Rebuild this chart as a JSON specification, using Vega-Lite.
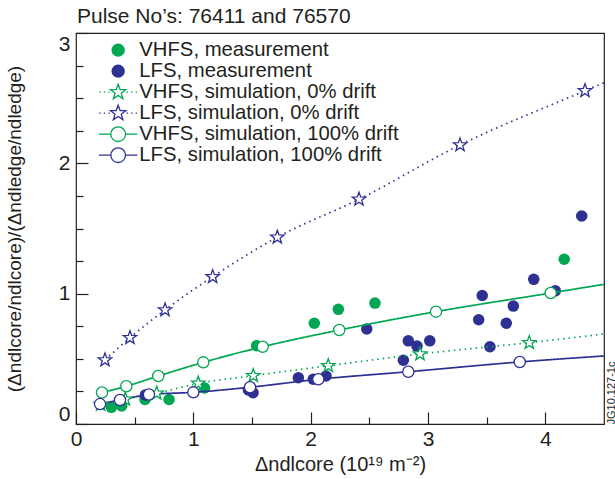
{
  "$schema": "https://vega.github.io/schema/vega-lite/v6.json",
  "width": 528,
  "height": 391,
  "autosize": {"type": "none"},
  "padding": {"left": 76, "top": 33, "right": 11, "bottom": 55},
  "config": {
    "font": "Liberation Sans",
    "view": {"stroke": "#231F20", "strokeWidth": 1.2},
    "axis": {"grid": false, "domain": false, "tickColor": "#231F20", "tickWidth": 1.2, "labelColor": "#231F20", "titleColor": "#231F20", "labelFont": "Liberation Sans", "titleFont": "Liberation Sans", "titleFontWeight": "normal"}
  },
  "title": {"text": "Pulse No’s: 76411 and 76570", "anchor": "start", "frame": "group", "fontSize": 21, "fontWeight": "normal", "font": "Liberation Sans", "color": "#231F20", "offset": 5, "dx": 1},
  "data": {"values": [
    {"s": "VHFS, measurement", "x": 0.301, "y": 0.128},
    {"s": "VHFS, measurement", "x": 0.389, "y": 0.138},
    {"s": "VHFS, measurement", "x": 0.588, "y": 0.188},
    {"s": "VHFS, measurement", "x": 0.793, "y": 0.188},
    {"s": "VHFS, measurement", "x": 1.095, "y": 0.276},
    {"s": "VHFS, measurement", "x": 1.540, "y": 0.601},
    {"s": "VHFS, measurement", "x": 2.031, "y": 0.773},
    {"s": "VHFS, measurement", "x": 2.236, "y": 0.880},
    {"s": "VHFS, measurement", "x": 2.548, "y": 0.928},
    {"s": "VHFS, measurement", "x": 4.161, "y": 1.264},
    {"s": "LFS, measurement", "x": 0.592, "y": 0.223},
    {"s": "LFS, measurement", "x": 1.469, "y": 0.261},
    {"s": "LFS, measurement", "x": 1.509, "y": 0.240},
    {"s": "LFS, measurement", "x": 1.895, "y": 0.355},
    {"s": "LFS, measurement", "x": 2.022, "y": 0.343},
    {"s": "LFS, measurement", "x": 2.131, "y": 0.368},
    {"s": "LFS, measurement", "x": 2.478, "y": 0.729},
    {"s": "LFS, measurement", "x": 2.790, "y": 0.489},
    {"s": "LFS, measurement", "x": 2.832, "y": 0.638},
    {"s": "LFS, measurement", "x": 2.906, "y": 0.598},
    {"s": "LFS, measurement", "x": 3.015, "y": 0.638},
    {"s": "LFS, measurement", "x": 3.432, "y": 0.800},
    {"s": "LFS, measurement", "x": 3.462, "y": 0.986},
    {"s": "LFS, measurement", "x": 3.528, "y": 0.593},
    {"s": "LFS, measurement", "x": 3.667, "y": 0.773},
    {"s": "LFS, measurement", "x": 3.727, "y": 0.905},
    {"s": "LFS, measurement", "x": 3.901, "y": 1.110},
    {"s": "LFS, measurement", "x": 4.085, "y": 1.022},
    {"s": "LFS, measurement", "x": 4.310, "y": 1.596},
    {"s": "VHFS, simulation, 0% drift", "x": 0.21, "y": 0.15},
    {"s": "VHFS, simulation, 0% drift", "x": 0.42, "y": 0.19},
    {"s": "VHFS, simulation, 0% drift", "x": 0.688, "y": 0.236},
    {"s": "VHFS, simulation, 0% drift", "x": 1.042, "y": 0.312},
    {"s": "VHFS, simulation, 0% drift", "x": 1.511, "y": 0.371},
    {"s": "VHFS, simulation, 0% drift", "x": 2.150, "y": 0.447},
    {"s": "VHFS, simulation, 0% drift", "x": 2.932, "y": 0.537},
    {"s": "VHFS, simulation, 0% drift", "x": 3.863, "y": 0.624},
    {"s": "VHFS, simulation, 0% drift", "x": 4.5, "y": 0.691},
    {"s": "LFS, simulation, 0% drift", "x": 0.247, "y": 0.491},
    {"s": "LFS, simulation, 0% drift", "x": 0.460, "y": 0.662},
    {"s": "LFS, simulation, 0% drift", "x": 0.759, "y": 0.875},
    {"s": "LFS, simulation, 0% drift", "x": 1.165, "y": 1.130},
    {"s": "LFS, simulation, 0% drift", "x": 1.716, "y": 1.433},
    {"s": "LFS, simulation, 0% drift", "x": 2.412, "y": 1.724},
    {"s": "LFS, simulation, 0% drift", "x": 3.273, "y": 2.141},
    {"s": "LFS, simulation, 0% drift", "x": 4.338, "y": 2.557},
    {"s": "LFS, simulation, 0% drift", "x": 4.5, "y": 2.619},
    {"s": "VHFS, simulation, 100% drift", "x": 0.222, "y": 0.242},
    {"s": "VHFS, simulation, 100% drift", "x": 0.429, "y": 0.290},
    {"s": "VHFS, simulation, 100% drift", "x": 0.701, "y": 0.368},
    {"s": "VHFS, simulation, 100% drift", "x": 1.085, "y": 0.473},
    {"s": "VHFS, simulation, 100% drift", "x": 1.591, "y": 0.593},
    {"s": "VHFS, simulation, 100% drift", "x": 2.244, "y": 0.721},
    {"s": "VHFS, simulation, 100% drift", "x": 3.068, "y": 0.862},
    {"s": "VHFS, simulation, 100% drift", "x": 4.046, "y": 1.005},
    {"s": "VHFS, simulation, 100% drift", "x": 4.5, "y": 1.072},
    {"s": "LFS, simulation, 100% drift", "x": 0.205, "y": 0.153},
    {"s": "LFS, simulation, 100% drift", "x": 0.375, "y": 0.184},
    {"s": "LFS, simulation, 100% drift", "x": 0.622, "y": 0.226},
    {"s": "LFS, simulation, 100% drift", "x": 1.000, "y": 0.243},
    {"s": "LFS, simulation, 100% drift", "x": 1.483, "y": 0.282},
    {"s": "LFS, simulation, 100% drift", "x": 2.065, "y": 0.343},
    {"s": "LFS, simulation, 100% drift", "x": 2.832, "y": 0.401},
    {"s": "LFS, simulation, 100% drift", "x": 3.782, "y": 0.476},
    {"s": "LFS, simulation, 100% drift", "x": 4.5, "y": 0.522}
  ]},
  "resolve": {"axis": {"x": "independent", "y": "independent"}, "scale": {"shape": "independent", "color": "independent"}},
  "layer": [
    {
      "transform": [{"filter": "indexof(datum.s, 'measurement') >= 0"}],
      "mark": {"type": "circle", "size": 133, "opacity": 1},
      "encoding": {
        "x": {"field": "x", "type": "quantitative", "scale": {"domain": [0, 4.5], "nice": false, "zero": false},
          "axis": {"orient": "bottom", "values": [0, 1, 2, 3, 4], "tickSize": -12, "labelFlush": false, "labelFontSize": 21, "labelPadding": 16.5, "title": "Δndlcore (10¹⁹ m⁻²)", "titleFontSize": 20, "titlePadding": 5}},
        "y": {"field": "y", "type": "quantitative", "scale": {"domain": [0, 3], "nice": false, "zero": false},
          "axis": {"orient": "left", "values": [0, 1, 2, 3], "tickSize": -12, "labelFlush": true, "labelFontSize": 21, "labelPadding": 18, "title": "(Δndlcore/ndlcore)/(Δndledge/ndledge)", "titleFontSize": 19, "titlePadding": 34}},
        "color": {"field": "s", "type": "nominal", "legend": null,
          "scale": {"domain": ["VHFS, measurement", "LFS, measurement"], "range": ["#00A651", "#2E3192"]}}
      }
    },
    {
      "transform": [{"filter": "indexof(datum.s, 'simulation') >= 0"}],
      "mark": {"type": "line", "interpolate": "monotone"},
      "encoding": {
        "x": {"field": "x", "type": "quantitative",
          "axis": {"orient": "bottom", "values": [0.5, 1.5, 2.5, 3.5], "tickSize": -7, "labels": false, "title": null}},
        "y": {"field": "y", "type": "quantitative",
          "axis": {"orient": "left", "values": [0.25, 0.5, 0.75, 1.25, 1.5, 1.75, 2.25, 2.5, 2.75], "tickSize": -7, "labels": false, "title": null}},
        "color": {"field": "s", "type": "nominal", "legend": null,
          "scale": {"domain": ["VHFS, simulation, 0% drift", "LFS, simulation, 0% drift", "VHFS, simulation, 100% drift", "LFS, simulation, 100% drift"], "range": ["#00A651", "#2E3192", "#00A651", "#2E3192"]}},
        "strokeDash": {"field": "s", "type": "nominal", "legend": null,
          "scale": {"domain": ["VHFS, simulation, 0% drift", "LFS, simulation, 0% drift", "VHFS, simulation, 100% drift", "LFS, simulation, 100% drift"], "range": [[1.5, 4], [1.5, 4], [1, 0], [1, 0]]}},
        "strokeWidth": {"field": "s", "type": "nominal", "legend": null,
          "scale": {"domain": ["VHFS, simulation, 0% drift", "LFS, simulation, 0% drift", "VHFS, simulation, 100% drift", "LFS, simulation, 100% drift"], "range": [1.7, 1.7, 1.2, 1.2]}}
      }
    },
    {
      "transform": [{"filter": "indexof(datum.s, 'simulation') >= 0 && datum.x < 4.5"}],
      "mark": {"type": "point", "filled": false, "fill": "white", "size": 150, "strokeWidth": 1.3, "opacity": 1},
      "encoding": {
        "x": {"field": "x", "type": "quantitative", "axis": null},
        "y": {"field": "y", "type": "quantitative",
          "axis": {"orient": "right", "domain": false, "ticks": false, "labels": false, "title": "JG10.127-1c", "titleFontSize": 11, "titleAngle": 270, "titleAlign": "left", "titleBaseline": "alphabetic", "titleX": 10, "titleY": 391}},
        "color": {"field": "s", "type": "nominal", "legend": null,
          "scale": {"domain": ["VHFS, simulation, 0% drift", "LFS, simulation, 0% drift", "VHFS, simulation, 100% drift", "LFS, simulation, 100% drift"], "range": ["#00A651", "#2E3192", "#00A651", "#2E3192"]}},
        "shape": {"field": "s", "type": "nominal", "legend": null,
          "scale": {"domain": ["VHFS, simulation, 0% drift", "LFS, simulation, 0% drift", "VHFS, simulation, 100% drift", "LFS, simulation, 100% drift"],
            "range": ["M0,-1.15L0.276,-0.38L1.094,-0.355L0.447,0.145L0.676,0.93L0,0.47L-0.676,0.93L-0.447,0.145L-1.094,-0.355L-0.276,-0.38Z", "M0,-1.15L0.276,-0.38L1.094,-0.355L0.447,0.145L0.676,0.93L0,0.47L-0.676,0.93L-0.447,0.145L-1.094,-0.355L-0.276,-0.38Z", "M-0.915,0A0.915,0.915,0,1,1,0.915,0A0.915,0.915,0,1,1,-0.915,0Z", "M-0.915,0A0.915,0.915,0,1,1,0.915,0A0.915,0.915,0,1,1,-0.915,0Z"]}}
      }
    },
    {
      "mark": {"type": "point", "filled": false, "opacity": 0},
      "encoding": {
        "x": {"field": "x", "type": "quantitative", "axis": null},
        "y": {"field": "y", "type": "quantitative", "axis": null},
        "color": {"field": "s", "type": "nominal",
          "scale": {"domain": ["VHFS, measurement", "LFS, measurement", "VHFS, simulation, 0% drift", "LFS, simulation, 0% drift", "VHFS, simulation, 100% drift", "LFS, simulation, 100% drift"], "range": ["#00A651", "#2E3192", "#00A651", "#2E3192", "#00A651", "#2E3192"]},
          "legend": {"orient": "none", "legendX": 32, "legendY": 7, "title": null, "padding": 0, "labelFontSize": 20.3, "labelColor": "#231F20", "labelFont": "Liberation Sans", "labelOffset": 11, "labelLimit": 400, "rowPadding": -1.3, "symbolSize": 196, "symbolStrokeWidth": 1.3, "symbolOpacity": 1}},
        "shape": {"field": "s", "type": "nominal",
          "scale": {"domain": ["VHFS, measurement", "LFS, measurement", "VHFS, simulation, 0% drift", "LFS, simulation, 0% drift", "VHFS, simulation, 100% drift", "LFS, simulation, 100% drift"],
            "range": [
              "M-0.86,0A0.86,0.86,0,1,1,0.86,0A0.86,0.86,0,1,1,-0.86,0ZM-0.72,0A0.72,0.72,0,1,1,0.72,0A0.72,0.72,0,1,1,-0.72,0ZM-0.58,0A0.58,0.58,0,1,1,0.58,0A0.58,0.58,0,1,1,-0.58,0ZM-0.44,0A0.44,0.44,0,1,1,0.44,0A0.44,0.44,0,1,1,-0.44,0ZM-0.3,0A0.3,0.3,0,1,1,0.3,0A0.3,0.3,0,1,1,-0.3,0ZM-0.16,0A0.16,0.16,0,1,1,0.16,0A0.16,0.16,0,1,1,-0.16,0ZM-0.05,0A0.05,0.05,0,1,1,0.05,0A0.05,0.05,0,1,1,-0.05,0Z",
              "M-0.86,0A0.86,0.86,0,1,1,0.86,0A0.86,0.86,0,1,1,-0.86,0ZM-0.72,0A0.72,0.72,0,1,1,0.72,0A0.72,0.72,0,1,1,-0.72,0ZM-0.58,0A0.58,0.58,0,1,1,0.58,0A0.58,0.58,0,1,1,-0.58,0ZM-0.44,0A0.44,0.44,0,1,1,0.44,0A0.44,0.44,0,1,1,-0.44,0ZM-0.3,0A0.3,0.3,0,1,1,0.3,0A0.3,0.3,0,1,1,-0.3,0ZM-0.16,0A0.16,0.16,0,1,1,0.16,0A0.16,0.16,0,1,1,-0.16,0ZM-0.05,0A0.05,0.05,0,1,1,0.05,0A0.05,0.05,0,1,1,-0.05,0Z",
              "M0,-1.15L0.276,-0.38L1.094,-0.355L0.447,0.145L0.676,0.93L0,0.47L-0.676,0.93L-0.447,0.145L-1.094,-0.355L-0.276,-0.38ZM-2.7,0L-2.5,0M-2.05,0L-1.85,0M-1.4,0L-1.2,0M1.2,0L1.4,0M1.85,0L2.05,0M2.5,0L2.7,0",
              "M0,-1.15L0.276,-0.38L1.094,-0.355L0.447,0.145L0.676,0.93L0,0.47L-0.676,0.93L-0.447,0.145L-1.094,-0.355L-0.276,-0.38ZM-2.7,0L-2.5,0M-2.05,0L-1.85,0M-1.4,0L-1.2,0M1.2,0L1.4,0M1.85,0L2.05,0M2.5,0L2.7,0",
              "M-2.75,0L-1.05,0M1.05,0L2.75,0M-1.05,0A1.05,1.05,0,1,1,1.05,0A1.05,1.05,0,1,1,-1.05,0Z",
              "M-2.75,0L-1.05,0M1.05,0L2.75,0M-1.05,0A1.05,1.05,0,1,1,1.05,0A1.05,1.05,0,1,1,-1.05,0Z"
            ]},
          "legend": {"orient": "none", "legendX": 32, "legendY": 7, "title": null, "padding": 0, "labelFontSize": 20.3, "labelColor": "#231F20", "labelFont": "Liberation Sans", "labelOffset": 11, "labelLimit": 400, "rowPadding": -1.3, "symbolSize": 196, "symbolStrokeWidth": 1.3, "symbolOpacity": 1}}
      }
    }
  ]
}
